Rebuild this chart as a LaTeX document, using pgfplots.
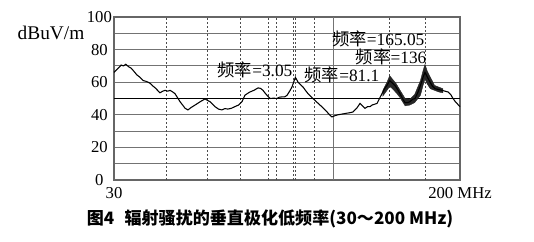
\documentclass[border=0pt]{standalone}
\usepackage{fontspec}
\setmainfont{Liberation Serif}
\newfontfamily\cjk{Noto Sans CJK SC}
\usepackage{pgfplots}
\pgfplotsset{compat=1.18}

% measured radiated emission, vertical polarisation
\pgfplotstableread{
f      v
30     66
30.4   67.5
30.8   69
31.2   70.5
31.6   70
32.0   71
32.5   69.5
33.0   68.5
33.5   66.5
34.0   64.5
34.6   63
35.2   61
35.8   60.5
36.5   59.5
37.0   58
37.6   56.5
38.1   55
38.6   53.5
39.2   54.5
39.7   55
40.3   54.5
40.8   55
41.4   54
41.9   53
42.5   50.5
43.1   48
43.7   46
44.3   44
45.0   43
45.8   44.5
46.8   46
48.1   48
49.4   49.7
50.8   48
51.5   46.5
52.2   45
53.2   43.5
54.2   43
55.1   43.8
56.0   43.5
57.1   44
58.2   45
59.4   46
60.5   48
61.0   50
61.5   52
62.3   53
63.2   54
64.6   55
66.1   56.5
67.0   56.2
67.9   55
68.6   53.5
69.4   52
70.0   51
70.6   50
72.0   50.2
73.3   50
74.3   50.8
75.4   51
76.5   51
77.5   52
78.6   54.5
79.6   57
80.3   60
81.1   63
81.7   61.5
82.3   60
83.4   58.5
84.6   57
85.7   55
86.9   53
88.1   51.5
89.3   50
91.0   48
92.8   46
94.6   44
96.5   41.7
97.8   40
99.1   38.7
100.8  39.5
102.4  40
105.0  40.5
107.6  41
109.4  41.3
111.2  41.7
113.5  44
115.6  47
117.2  45.5
118.8  44
120.5  45
122.1  45
123.5  46
125.2  46.5
126.9  47
128.6  50
130.4  53
132.2  56
134.0  58
136.0  61
138.0  59.5
140.0  58
142.0  55.5
143.9  53
145.9  50
147.9  47.5
150.0  47.5
152.0  48
154.1  49.5
156.3  50
157.6  52
158.9  54
161.0  58
163.3  63
165.05 66
167.3  63
169.7  60
172.0  57.5
174.4  56
177.8  55.5
181.2  55
184.2  54.5
187.3  54
190.0  52.5
192.5  50
195.0  48
197.5  46.5
200    45
}\emission

\begin{document}
\begin{tikzpicture}[x=0.75pt,y=0.75pt]
\begin{axis}[
  name=ax,
  scale only axis,
  width=259.5pt, height=122.25pt,
  xmode=log,
  xmin=30, xmax=200, ymin=0, ymax=100,
  xtick={30,200},
  xticklabels={30,{200 MHz}},
  ytick={0,20,...,100},
  minor ytick={10,30,...,90},
  ymajorgrids, yminorgrids,
  major grid style={black!55, line width=0.8pt},
  minor grid style={black!55, line width=0.8pt},
  major tick length=0pt, minor tick length=0pt,
  axis line style={black!60, line width=0.9pt},
  tick label style={font=\fontsize{12.5}{13}\selectfont},
  /pgf/number format/assume math mode=true,
  yticklabel style={anchor=center, xshift=-11pt},
  xticklabel style={yshift=-2pt},
  clip=false,
]
% vertical grid and marker lines
\foreach \f in {40,50,60,70,73.05,80,81.1,90,136,165.05} {
  \edef\tmp{\noexpand\draw[black!70, line width=0.5pt, dash pattern=on 1.6pt off 1.4pt]
    (axis cs:\f,0) -- (axis cs:\f,100);}
  \tmp
}
\draw[black!55, line width=0.8pt] (axis cs:100,0) -- (axis cs:100,100);
% limit line
\draw[black, line width=1pt] (axis cs:30,50) -- (axis cs:200,50);

% noisy band around the two peaks
\addplot[black!85, fill=black!85, line width=0.3pt] coordinates {
  (131,55) (134,60) (136,64) (138,62) (141,59) (144,55) (148,50) (152,49.5)
  (156,52.5) (161,61) (163.3,67) (165.05,71) (167,67) (170,63) (174,58) (178,57) (182,56)
  (182,53.5) (178,54) (174,55) (170,56) (167,59) (165.05,62) (163.3,58) (161,52)
  (156,47.5) (152,46) (148,45.5) (144,50.5) (141,53.5) (138,56) (136,57.5) (134,55) (131,51.5)
} -- cycle;
\addplot[black, line width=0.8pt] table[x=f, y=v] {\emission};

% annotations
\tikzset{ann/.style={font=\fontsize{13}{14}\selectfont, inner sep=0pt,
  text height=9pt, text depth=1.5pt}}
\node[font=\fontsize{14.5}{15}\selectfont] at (rel axis cs:-0.182,0.902) {dBuV/m};
\node[ann] at (rel axis cs:0.4075,0.665) {{\cjk 频率}=3.05};
\node[ann] at (rel axis cs:0.659,0.632) {{\cjk 频率}=81.1};
\node[ann] at (rel axis cs:0.764,0.855) {{\cjk 频率}=165.05};
\node[ann] at (rel axis cs:0.801,0.748) {{\cjk 频率}=136};
\node[font=\cjk\bfseries\fontsize{12.8}{13}\selectfont] at (rel axis cs:0.451,-0.24)
  {图4\hspace{0.6em}辐射骚扰的垂直极化低频率(30～200 MHz)};
\end{axis}
\pgfresetboundingbox
\path[use as bounding box] ([xshift=-85.5pt,yshift=-46.5pt]ax.south west)
  rectangle ([xshift=315pt,yshift=135pt]ax.south west);
\end{tikzpicture}
\end{document}
